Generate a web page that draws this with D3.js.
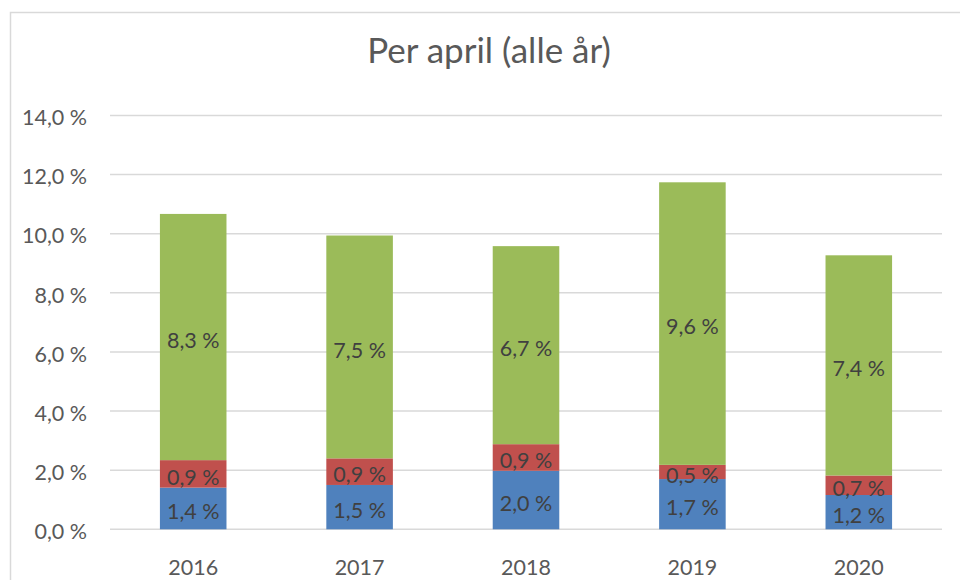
<!DOCTYPE html>
<html><head><meta charset="utf-8">
<script src="https://cdn.jsdelivr.net/npm/d3@7"></script>
<style>body{margin:0;background:#fff}svg{display:block}text{font-family:Lato,"Open Sans",sans-serif}</style>
</head><body><svg id="c" width="960" height="580"></svg>
<script>
const title = "Per april (alle år)";
const years = ["2016","2017","2018","2019","2020"];
const seriesBlue  = [1.41, 1.50, 1.98, 1.70, 1.16];
const seriesRed   = [0.93, 0.90, 0.90, 0.48, 0.66];
const seriesGreen = [8.33, 7.54, 6.70, 9.56, 7.45];
const yTicks = [0, 2, 4, 6, 8, 10, 12, 14];
const colors = ["#4F81BD", "#C0504D", "#9BBB59"];

const svg = d3.select("#c");
const M = {left:110, right:942, top:115.5, bottom:529.3};
const fmt = v => v.toFixed(1).replace(".", ",") + " %";

// chart border
svg.append("rect").attr("x",10.5).attr("y",12.5).attr("width",980).attr("height",600)
  .attr("fill","none").attr("stroke","#d9d9d9").attr("stroke-width",1.5);

const x = d3.scaleBand().domain(years).range([M.left, M.right]).padding(0);
const y = d3.scaleLinear().domain([0,14]).range([M.bottom, M.top]);

// gridlines
svg.append("g").selectAll("line").data(yTicks).join("line")
  .attr("x1",M.left).attr("x2",M.right)
  .attr("y1",d=>y(d)).attr("y2",d=>y(d))
  .attr("stroke","#d9d9d9").attr("stroke-width",1.5);

// y tick labels
svg.append("g").selectAll("text").data(yTicks).join("text")
  .attr("x",87).attr("y",d=>y(d)).attr("dy","0.45em")
  .attr("text-anchor","end").attr("font-size",21.5).attr("fill","#595959")
  .text(d=>fmt(d));

// x labels
svg.append("g").selectAll("text").data(years).join("text")
  .attr("x",d=>x(d)+x.bandwidth()/2).attr("y",575)
  .attr("text-anchor","middle").attr("font-size",21.5).attr("fill","#595959")
  .text(d=>d);

// stacked bars
const rows = years.map((yr,i)=>({year:yr, a:seriesBlue[i], b:seriesRed[i], c:seriesGreen[i]}));
const stack = d3.stack().keys(["a","b","c"])(rows);
const bw = x.bandwidth()*0.4;
stack.forEach((layer,li)=>{
  const g = svg.append("g");
  g.selectAll("rect").data(layer).join("rect")
    .attr("x",d=>x(d.data.year)+x.bandwidth()/2-bw/2)
    .attr("width",bw)
    .attr("y",d=>y(d[1]))
    .attr("height",d=>y(d[0])-y(d[1]))
    .attr("fill",colors[li]);
  g.selectAll("text").data(layer).join("text")
    .attr("x",d=>x(d.data.year)+x.bandwidth()/2)
    .attr("y",d=>(y(d[0])+y(d[1]))/2).attr("dy","0.5em")
    .attr("text-anchor","middle").attr("font-size",21.5).attr("fill","#404040")
    .text(d=>fmt(d[1]-d[0]));
});

// title
svg.append("text").attr("x",489).attr("y",63).attr("text-anchor","middle")
  .attr("font-size",35).attr("fill","#595959").text(title);
</script></body></html>
